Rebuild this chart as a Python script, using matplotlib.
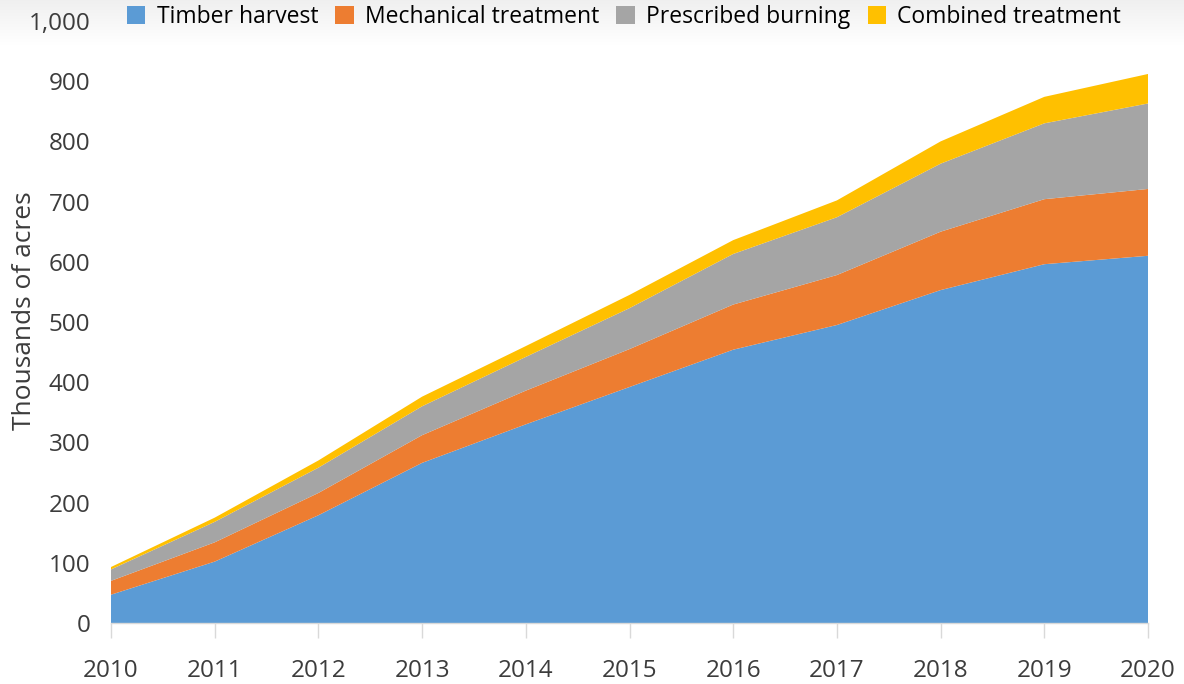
import matplotlib
matplotlib.use("Agg")
import matplotlib.pyplot as plt
import numpy as np

years = [2010, 2011, 2012, 2013, 2014, 2015, 2016, 2017, 2018, 2019, 2020]
timber_harvest = [47, 102, 179, 266, 330, 392, 454, 495, 553, 596, 610]
mechanical = [23, 32, 37, 46, 56, 63, 75, 83, 97, 108, 111]
prescribed_burning = [19, 34, 42, 48, 56, 68, 84, 96, 113, 126, 142]
combined = [4, 7, 12, 16, 18, 22, 23, 28, 37, 44, 49]
labels = ["Timber harvest", "Mechanical treatment", "Prescribed burning", "Combined treatment"]
colors = ["#5B9BD5", "#ED7D31", "#A5A5A5", "#FFC000"]
yticks = [0, 100, 200, 300, 400, 500, 600, 700, 800, 900, 1000]

plt.rcParams['font.family'] = ['Open Sans', 'DejaVu Sans']
textc = "#3c3c3c"

fig = plt.figure(figsize=(11.84, 6.84), dpi=100)

# light gradient band at top behind legend
bg = fig.add_axes([0, 1 - 45 / 684, 1, 45 / 684], zorder=-5)
grad = np.linspace(0.94, 1.0, 64).reshape(-1, 1)
bg.imshow(np.dstack([grad, grad, grad]), aspect='auto', extent=[0, 1, 0, 1])
bg.axis('off')

ax = fig.add_axes([111 / 1184, 1 - 623 / 684, (1148 - 111) / 1184, (623 - 21) / 684])
ax.stackplot(years, timber_harvest, mechanical, prescribed_burning, combined,
             colors=colors, labels=labels, linewidth=0)
ax.set_xlim(years[0], years[-1])
ax.set_ylim(0, 1000)
ax.set_yticks(yticks)
ax.set_yticklabels([f"{v:,}" for v in yticks], fontsize=17.5, color=textc)
ax.set_xticks(years)
ax.set_xticklabels([str(y) for y in years], fontsize=17.5, color=textc)
ax.tick_params(axis='y', length=0, pad=15)
ax.tick_params(axis='x', length=11, width=1, color="#d9d9d9", pad=15)
for s in ['top', 'right', 'left']:
    ax.spines[s].set_visible(False)
ax.spines['bottom'].set_color("#d9d9d9")
ax.spines['bottom'].set_linewidth(1)
ax.patch.set_alpha(0)
ax.set_ylabel("Thousands of acres", fontsize=19, color=textc)
ax.yaxis.set_label_coords(-(111 - 37) / (1148 - 111), (623 - 311) / 602)

handles, lbls = ax.get_legend_handles_labels()
fig.legend(handles, lbls, loc='center', bbox_to_anchor=(0.527, 1 - 17 / 684), ncol=4,
           frameon=False, fontsize=16.5, handlelength=0.8, handleheight=0.8,
           handletextpad=0.5, columnspacing=0.75, labelcolor="black")

fig.savefig("out.png", dpi=100)
